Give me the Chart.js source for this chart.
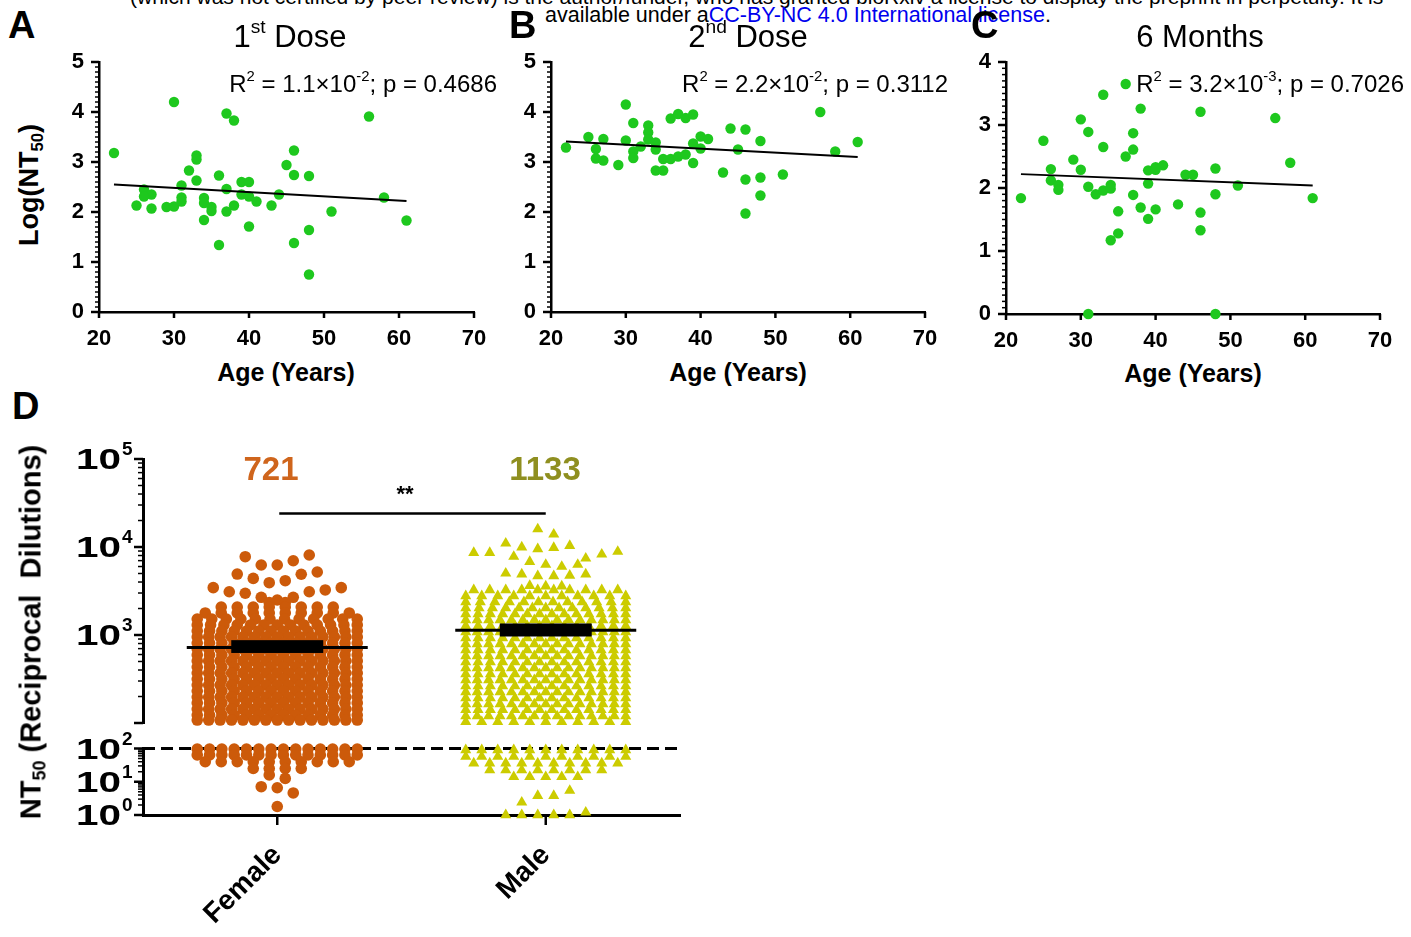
<!DOCTYPE html>
<html>
<head>
<meta charset="utf-8">
<title>NT50 by age and sex</title>
<script src="https://cdn.jsdelivr.net/npm/chart.js@4.4.1/dist/chart.umd.min.js"></script>
<style>
  body { margin: 0; width: 1411px; height: 937px; overflow: hidden; position: relative; background: #fff;
         font-family: "Liberation Sans", Arial, sans-serif; color: #000; }
  canvas { position: absolute; }
  .t { position: absolute; white-space: nowrap; line-height: 1; }
  .t sup { font-size: 62%; position: relative; top: -0.75em; vertical-align: baseline; }
  .t sub { font-size: 62%; position: relative; top: 0.3em; vertical-align: baseline; }
  .b { font-weight: bold; }
</style>
</head>
<body>
<script>
const SANS = '"Liberation Sans", Arial, sans-serif';
const GREEN = '#1ec81e';
const ORANGE = '#cc5a0a';
const YELLOW = '#cccc00';

// ---- panels A-C : age vs log(NT50) ----
const ageTicks = [20, 30, 40, 50, 60, 70];
const fitAges = [22, 61];

const agesDose1 = [22, 30, 37, 38, 56, 46, 45, 46, 48, 33, 33, 32, 33, 36, 31, 26, 27, 26, 25, 27, 29, 30, 31, 31, 34,
  34, 35, 35, 34, 37, 37, 38, 39, 40, 39, 40, 41, 43, 44, 40, 36, 46, 48, 48, 51, 58, 61];
const logNtDose1 = [3.18, 4.2, 3.97, 3.83, 3.91, 3.23, 2.94, 2.74, 2.72, 3.13, 3.05, 2.83, 2.63, 2.73, 2.53, 2.45, 2.35,
  2.31, 2.13, 2.07, 2.1, 2.11, 2.29, 2.21, 2.28, 2.18, 2.1, 2.02, 1.84, 2.46, 2.01, 2.13, 2.6, 2.6, 2.35, 2.31, 2.21,
  2.13, 2.35, 1.71, 1.34, 1.38, 1.64, 0.75, 2.01, 2.29, 1.83];
const fitDose1 = [2.55, 2.22];

const agesDose2 = [22, 25, 26, 26, 27, 27, 29, 30, 30, 31, 31, 31, 32, 33, 33, 33, 34, 34, 34, 35, 35, 36, 36, 37, 37,
  38, 38, 39, 39, 39, 40, 40, 41, 43, 44, 45, 46, 46, 46, 48, 48, 48, 51, 56, 58, 61];
const logNtDose2 = [3.29, 3.5, 3.26, 3.07, 3.46, 3.03, 2.94, 4.15, 3.43, 3.78, 3.21, 3.08, 3.31, 3.73, 3.59, 3.45, 3.39,
  3.25, 2.83, 3.06, 2.83, 3.87, 3.06, 3.96, 3.11, 3.88, 3.15, 3.95, 3.37, 2.98, 3.51, 3.27, 3.46, 2.79, 3.67, 3.25,
  3.65, 2.65, 1.97, 3.42, 2.69, 2.33, 2.75, 4.0, 3.21, 3.4];
const fitDose2 = [3.41, 3.10];

const agesMonth6 = [22, 25, 26, 26, 27, 27, 29, 30, 30, 31, 31, 31, 32, 33, 33, 33, 34, 34, 34, 35, 35, 36, 36, 37, 37,
  37, 38, 38, 39, 39, 39, 40, 40, 40, 41, 43, 44, 45, 46, 46, 46, 48, 48, 48, 51, 56, 58, 61];
const logNtMonth6 = [1.84, 2.75, 2.3, 2.12, 2.05, 1.97, 2.45, 3.09, 2.29, 2.89, 2.02, 0, 1.9, 3.48, 2.65, 1.96, 2.05,
  1.99, 1.17, 1.63, 1.28, 3.65, 2.5, 2.87, 2.61, 1.89, 3.26, 1.69, 2.28, 2.07, 1.51, 2.33, 2.29, 1.66, 2.36, 1.74,
  2.21, 2.21, 3.21, 1.61, 1.33, 2.31, 1.9, 0, 2.04, 3.11, 2.4, 1.84];
const fitMonth6 = [2.22, 2.04];

// ---- panel D : NT50 by sex ----
const groups = ['Female', 'Male'];
const geoMeans = [721, 1133];
const ciLow = [650, 1000];
const ciHigh = [840, 1300];
const sigBarLevel = 24000;

// sparse values above the dense block, one list per horizontal band (left to right)
const femaleTopBands = [
  [7760, 6240, 6240, 6980, 8110],
  [4930, 4400, 3930, 4140, 4900, 5200],
  [3450, 3100, 2980, 2680, 2500, 2680, 3100, 3250, 3450],
  [2330, 2330]
];
const femaleRowLevels = [2080, 1780, 1520, 1300, 1110, 950, 811, 693, 593, 507, 433, 370, 316, 270, 231, 197, 169, 144, 123, 108];
const femaleRowCounts = [8, 10, 12, 13, 14, 15, 14, 15, 14, 15, 14, 15, 14, 15, 14, 15, 14, 15, 14, 15];
const femaleLowLevels = [96, 64, 40, 25];
const femaleLowCounts = [14, 14, 10, 4];
const femaleLowBands = [[16, 12.6], [7.1, 6.6, 4.6], [1.8]];

const maleTopBands = [
  [16000, 13900],
  [8600, 8600, 11000, 9930, 9490, 9820, 10350, 7430, 8260, 8850],
  [7770, 6810, 6310, 5980, 6310],
  [5020, 4900, 4680, 4680, 4750, 4900],
  [3630, 3580, 3580]
];
const maleRowLevels = [3245, 2775, 2372, 2028, 1734, 1481, 1266, 1082, 925, 791, 676, 577, 493, 422, 360, 308, 263, 225, 192, 164, 141, 120, 103];
const maleRowCounts = [10, 11, 12, 13, 14, 15, 14, 15, 14, 15, 14, 15, 14, 15, 14, 15, 14, 15, 14, 15, 14, 15, 11];
const maleLowLevels = [90, 57, 36, 22.5, 14];
const maleLowCounts = [11, 11, 10, 8, 5];
const maleLowBands = [[2.4, 3.8, 3.8, 5.4], [1, 1, 1, 1, 1, 1.2]];

Chart.defaults.font.family = SANS;
Chart.defaults.color = '#000';

function makeCanvas(left, top, w, h) {
  const c = document.createElement('canvas');
  c.width = w; c.height = h;
  c.style.left = left + 'px'; c.style.top = top + 'px';
  c.style.width = w + 'px'; c.style.height = h + 'px';
  document.body.appendChild(c);
  return c;
}

function label(html, x, y, o = {}) {
  const d = document.createElement('div');
  d.className = 't' + (o.bold ? ' b' : '');
  d.innerHTML = html;
  const ax = o.align === 'left' ? '0' : o.align === 'right' ? '-100%' : '-50%';
  d.style.left = x + 'px';
  d.style.top = y + 'px';
  d.style.fontSize = (o.size || 20) + 'px';
  if (o.color) d.style.color = o.color;
  d.style.transform = `translate(${ax}, -50%)` + (o.rotate ? ` rotate(${o.rotate}deg)` : '');
  document.body.appendChild(d);
}

// tick marks drawn outside the axis lines
function axisTicks(yTicks, xTicks) {
  return {
    id: 'axisTicks',
    afterDraw(chart) {
      const { ctx } = chart;
      const x = chart.scales.x, y = chart.scales.y;
      ctx.save();
      ctx.strokeStyle = '#000';
      yTicks.forEach(t => {
        const p = y.getPixelForValue(t.v);
        ctx.lineWidth = t.major ? 2.5 : 1.5;
        ctx.beginPath();
        ctx.moveTo(chart.chartArea.left, p);
        ctx.lineTo(chart.chartArea.left - t.len, p);
        ctx.stroke();
      });
      xTicks.forEach(t => {
        const p = x.getPixelForValue(t.v);
        ctx.lineWidth = 2.5;
        ctx.beginPath();
        ctx.moveTo(p, chart.chartArea.bottom);
        ctx.lineTo(p, chart.chartArea.bottom + t.len);
        ctx.stroke();
      });
      ctx.restore();
    }
  };
}

function linearMinorTicks(max) {
  const out = [];
  for (let k = 0; k <= max * 10; k++) out.push({ v: k / 10, len: k % 10 === 0 ? 8 : 4, major: k % 10 === 0 });
  return out;
}

function agePanel(left, ages, values, fit, yMax, area) {
  const top = 45, w = 430, h = 310;
  const cv = makeCanvas(left, top, w, h);
  const yTicks = [];
  for (let v = 0; v <= yMax; v++) yTicks.push(v);
  new Chart(cv, {
    type: 'scatter',
    data: {
      datasets: [
        { type: 'line', data: fitAges.map((a, i) => ({ x: a, y: fit[i] })), borderColor: '#000', borderWidth: 1.8,
          pointRadius: 0, fill: false },
        { data: ages.map((a, i) => ({ x: a, y: values[i] })), backgroundColor: GREEN, borderWidth: 0,
          pointRadius: 5.2, clip: false }
      ]
    },
    options: {
      responsive: false, animation: false, events: [],
      layout: { padding: { top: area.top - top, right: left + w - area.right, left: 0, bottom: 0 } },
      plugins: { legend: { display: false }, tooltip: { enabled: false } },
      scales: {
        x: {
          type: 'linear', min: ageTicks[0], max: ageTicks[ageTicks.length - 1],
          afterBuildTicks: s => { s.ticks = ageTicks.map(v => ({ value: v })); },
          afterFit: s => { s.height = top + h - area.bottom; s.paddingLeft = 0; s.paddingRight = 0; },
          grid: { display: false },
          border: { color: '#000', width: 2.5 },
          ticks: { font: { size: 22, weight: 'bold' }, padding: 6, maxRotation: 0, color: '#000' }
        },
        y: {
          type: 'linear', min: 0, max: yMax,
          afterBuildTicks: s => { s.ticks = yTicks.map(v => ({ value: v })); },
          afterFit: s => { s.width = area.left - left; s.paddingTop = 0; s.paddingBottom = 0; },
          grid: { display: false },
          border: { color: '#000', width: 2.5 },
          ticks: { font: { size: 22, weight: 'bold' }, padding: 7, color: '#000' }
        }
      }
    },
    plugins: [axisTicks(linearMinorTicks(yMax), ageTicks.map(v => ({ v, len: 6 })))]
  });
}

agePanel(60, agesDose1, logNtDose1, fitDose1, 5, { left: 99, right: 474, top: 62, bottom: 312 });
agePanel(520, agesDose2, logNtDose2, fitDose2, 5, { left: 551, right: 925, top: 62, bottom: 312 });
agePanel(975, agesMonth6, logNtMonth6, fitMonth6, 4, { left: 1006, right: 1380, top: 62, bottom: 314 });

// ---- panel D layout ----
const PX_PER_GROUP = 268.5;   // pixels per category unit on the x scale
const SPAN = 160, GAP = 16;

function row(values, center) {
  const n = values.length;
  const step = n > 1 ? Math.min(GAP, SPAN / (n - 1)) : 0;
  return values.map((v, i) => ({ x: center + (i - (n - 1) / 2) * step / PX_PER_GROUP, y: v }));
}
function repeatRows(levels, counts) {
  return levels.map((v, i) => new Array(counts[i]).fill(v));
}

const femaleUpper = [...femaleTopBands, ...repeatRows(femaleRowLevels, femaleRowCounts)].flatMap(r => row(r, 0));
const maleUpper = [...maleTopBands, ...repeatRows(maleRowLevels, maleRowCounts)].flatMap(r => row(r, 1));
const femaleLower = [...repeatRows(femaleLowLevels, femaleLowCounts), ...femaleLowBands].flatMap(r => row(r, 0));
const maleLower = [...repeatRows(maleLowLevels, maleLowCounts), ...maleLowBands].flatMap(r => row(r, 1));

function logTicks(minExp, maxExp) {
  const out = [];
  for (let e = minExp; e < maxExp; e++) {
    out.push({ v: Math.pow(10, e), len: 9, major: true });
    for (let k = 2; k <= 9; k++) out.push({ v: k * Math.pow(10, e), len: 5 });
  }
  out.push({ v: Math.pow(10, maxExp), len: 9, major: true });
  return out;
}

function powerLabels(exps) {
  return {
    id: 'powerLabels',
    afterDraw(chart) {
      const { ctx } = chart;
      const y = chart.scales.y;
      ctx.save();
      ctx.fillStyle = '#000';
      ctx.textBaseline = 'middle';
      exps.forEach(e => {
        const p = y.getPixelForValue(Math.pow(10, e));
        ctx.save();
        ctx.translate(121, p + 2);
        ctx.scale(1.35, 1);
        ctx.font = 'bold 30px ' + SANS;
        ctx.textAlign = 'right';
        ctx.fillText('10', 0, 0);
        ctx.restore();
        ctx.font = 'bold 19px ' + SANS;
        ctx.textAlign = 'left';
        ctx.fillText(String(e), 122, p - 9);
      });
      ctx.restore();
    }
  };
}

const meanBars = {
  id: 'meanBars',
  afterDatasetsDraw(chart) {
    const { ctx } = chart;
    const x = chart.scales.x, y = chart.scales.y;
    ctx.save();
    ctx.fillStyle = '#000';
    ctx.strokeStyle = '#000';
    geoMeans.forEach((m, i) => {
      const cx = x.getPixelForValue(i);
      const pm = y.getPixelForValue(m);
      ctx.lineWidth = 3;
      ctx.beginPath();
      ctx.moveTo(cx - 90.5, pm);
      ctx.lineTo(cx + 90.5, pm);
      ctx.stroke();
      const ph = y.getPixelForValue(ciHigh[i]);
      const pl = y.getPixelForValue(ciLow[i]);
      ctx.fillRect(cx - 46, ph - 1.5, 92, pl - ph + 3);
    });
    // significance bar
    const ps = y.getPixelForValue(sigBarLevel);
    ctx.lineWidth = 2.5;
    ctx.beginPath();
    ctx.moveTo(x.getPixelForValue(0) + 2, ps);
    ctx.lineTo(x.getPixelForValue(1), ps);
    ctx.stroke();
    ctx.restore();
  }
};

const limitLine = {
  id: 'limitLine',
  beforeDatasetsDraw(chart) {
    const { ctx, chartArea } = chart;
    const p = chart.scales.y.getPixelForValue(100);
    ctx.save();
    ctx.strokeStyle = '#000';
    ctx.lineWidth = 3;
    ctx.setLineDash([12, 6]);
    ctx.beginPath();
    ctx.moveTo(chartArea.left, p);
    ctx.lineTo(chartArea.right, p);
    ctx.stroke();
    ctx.restore();
  }
};

const femaleStyle = { pointStyle: 'circle', pointRadius: 5.8, backgroundColor: ORANGE, borderWidth: 0, clip: false };
const maleStyle = { pointStyle: 'triangle', pointRadius: 6.4, backgroundColor: YELLOW, borderWidth: 0, clip: false };

// upper segment: 10^2 .. 10^5
new Chart(makeCanvas(0, 430, 700, 300), {
  type: 'scatter',
  data: { datasets: [{ data: femaleUpper, ...femaleStyle }, { data: maleUpper, ...maleStyle }] },
  options: {
    responsive: false, animation: false, events: [],
    layout: { padding: { top: 29, right: 20, bottom: 7, left: 0 } },
    plugins: { legend: { display: false }, tooltip: { enabled: false } },
    scales: {
      x: { type: 'linear', min: -0.5, max: 1.5, display: false },
      y: {
        type: 'logarithmic', min: 100, max: 100000,
        afterFit: s => { s.width = 143; },
        grid: { display: false }, ticks: { display: false },
        border: { color: '#000', width: 3 }
      }
    }
  },
  plugins: [meanBars, axisTicks(logTicks(2, 5), []), powerLabels([3, 4, 5])]
});

// lower segment: 10^0 .. 10^2
new Chart(makeCanvas(0, 725, 700, 212), {
  type: 'scatter',
  data: { datasets: [{ data: femaleLower, ...femaleStyle }, { data: maleLower, ...maleStyle }] },
  options: {
    responsive: false, animation: false, events: [],
    layout: { padding: { top: 23.5, right: 20, bottom: 0, left: 0 } },
    plugins: { legend: { display: false }, tooltip: { enabled: false } },
    scales: {
      x: {
        type: 'linear', min: -0.5, max: 1.5,
        afterBuildTicks: s => { s.ticks = groups.map((g, i) => ({ value: i })); },
        afterFit: s => { s.height = 122; },
        grid: { display: false },
        border: { color: '#000', width: 3 },
        ticks: { callback: v => groups[v], minRotation: 45, maxRotation: 45, padding: 16,
                 font: { size: 28, weight: 'bold' }, color: '#000' }
      },
      y: {
        type: 'logarithmic', min: 1, max: 100,
        afterFit: s => { s.width = 143; },
        grid: { display: false }, ticks: { display: false },
        border: { color: '#000', width: 3 }
      }
    }
  },
  plugins: [limitLine, axisTicks(logTicks(0, 2), [{ v: 0, len: 10 }, { v: 1, len: 10 }]), powerLabels([0, 1, 2])]
});

// ---- text ----
label('(which was not certified by peer review) is the author/funder, who has granted bioRxiv a license to display the preprint in perpetuity. It is',
  130, -4, { align: 'left', size: 21 });
label('available under a<span style="color:#0000ee">CC-BY-NC 4.0 International license</span>.', 545, 16, { align: 'left', size: 21.5 });

label('A', 8, 25, { align: 'left', size: 38, bold: true });
label('B', 509, 25, { align: 'left', size: 38, bold: true });
label('C', 971, 25, { align: 'left', size: 38, bold: true });
label('D', 12, 406, { align: 'left', size: 38, bold: true });

label('1<sup>st</sup> Dose', 290, 36, { size: 31 });
label('2<sup>nd</sup> Dose', 748, 36, { size: 31 });
label('6 Months', 1200, 36, { size: 31 });

label('R<sup>2</sup> = 1.1&times;10<sup>-2</sup>; p = 0.4686', 497, 84, { align: 'right', size: 24 });
label('R<sup>2</sup> = 2.2&times;10<sup>-2</sup>; p = 0.3112', 948, 84, { align: 'right', size: 24 });
label('R<sup>2</sup> = 3.2&times;10<sup>-3</sup>; p = 0.7026', 1404, 84, { align: 'right', size: 24 });

label('Age (Years)', 286, 372, { size: 25, bold: true });
label('Age (Years)', 738, 372, { size: 25, bold: true });
label('Age (Years)', 1193, 373, { size: 25, bold: true });
label('Log(NT<sub>50</sub>)', 29, 185, { size: 27, bold: true, rotate: -90 });

label('NT<sub>50</sub> (Reciprocal&nbsp;&nbsp;Dilutions)', 31, 632, { size: 29, bold: true, rotate: -90 });
label('721', 271, 468, { size: 33, bold: true, color: '#cf651c' });
label('1133', 545, 468, { size: 33, bold: true, color: '#8f8f20' });
label('**', 405, 494, { size: 22, bold: true });
</script>
</body>
</html>
